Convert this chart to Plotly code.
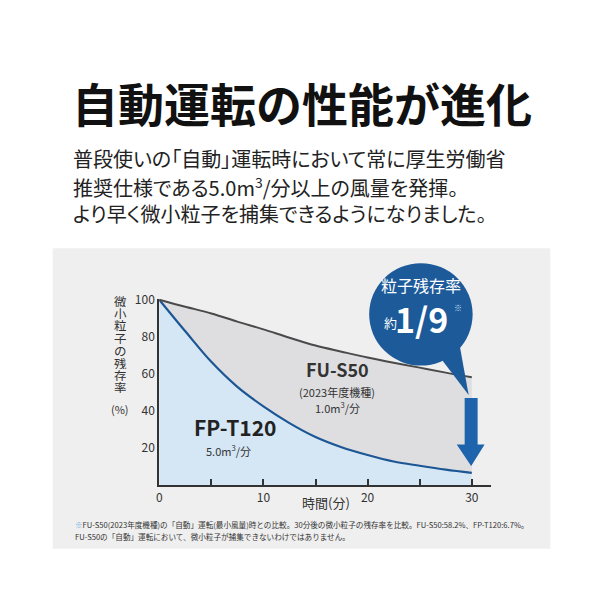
import plotly.graph_objects as go

# minutes and remaining rate (%)
minutes = [0, 2.5, 5, 7.5, 10, 12.5, 15, 17.5, 20, 22.5, 25, 27.5, 30]
fp_t120 = [100, 83, 66.5, 53, 42.5, 33.5, 26, 20.5, 16.3, 12.8, 10.5, 8.4, 6.7]
fu_s50 = [100, 96.2, 92.6, 88.2, 84, 79.5, 75.3, 72, 68.8, 66, 63.4, 60.7, 58.2]

x_ticks = [0, 5, 10, 15, 20, 25, 30]
x_labels = ["0", " ", "10", " ", "20", " ", "30"]
y_ticks = [20, 40, 60, 80, 100]

FONT = "Noto Sans CJK JP"
W = H = 600
PALT = "<span style='font-feature-settings:\"palt\"'>{}</span>"


def px(x):
    return x / W


def py(y):
    return 1 - y / H


fig = go.Figure()
fig.add_trace(go.Scatter(x=minutes, y=fp_t120, mode="lines", fill="tozeroy",
                         fillcolor="#d5e7f5", line=dict(color="#1d5694", width=2.2),
                         line_shape="spline", hoverinfo="skip"))
fig.add_trace(go.Scatter(x=minutes, y=fu_s50, mode="lines", fill="tonexty",
                         fillcolor="#dedee0", line=dict(color="#4a4a4a", width=2),
                         line_shape="spline", hoverinfo="skip"))

shapes = []
# grey panel behind chart
shapes.append(dict(type="rect", xref="paper", yref="paper", layer="below",
                   x0=px(50), x1=px(550), y0=py(548), y1=py(243),
                   fillcolor="#efefef", line_width=0))
# callout bubble
shapes.append(dict(type="circle", xref="paper", yref="paper",
                   x0=px(368), x1=px(472), y0=py(362), y1=py(258),
                   fillcolor="#1c5a9a", line_width=0))
tail = [(438, 352), (458, 336), (468, 392)]
shapes.append(dict(type="path", xref="paper", yref="paper",
                   path="M " + " L ".join(f"{px(a):.4f},{py(b):.4f}" for a, b in tail) + " Z",
                   fillcolor="#1c5a9a", line_width=0))
# down arrow
arrow = [(464, 395), (477, 395), (477, 442), (484, 442), (470.5, 464),
         (456, 442), (464, 442)]
shapes.append(dict(type="path", xref="paper", yref="paper",
                   path="M " + " L ".join(f"{px(a):.4f},{py(b):.4f}" for a, b in arrow) + " Z",
                   fillcolor="#1d64ad", line_width=0))

ann = []


def text(x, y, s, size, color="#222", xanchor="center", bold=False, height=None):
    a = dict(x=px(x), y=py(y), xref="paper", yref="paper", text=f"<b>{s}</b>" if bold else s,
             showarrow=False, xanchor=xanchor, yanchor="middle",
             font=dict(family=FONT, size=size, color=color))
    if height:
        a["height"] = height
    ann.append(a)


text(300, 94, "自動運転の性能が進化", 46, "#111", bold=True)
text(68, 152, PALT.format("普段使いの「自動」運転時において常に厚生労働省"), 20, xanchor="left")
text(68, 181, PALT.format("推奨仕様である5.0m<sup>3</sup>/分以上の風量を発揮。"), 20, xanchor="left")
text(68, 208, PALT.format("より早く微小粒子を捕集できるようになりました。"), 20, xanchor="left")

# vertical axis title, one character per row
for i, ch in enumerate("微小粒子の残存率"):
    text(118, 296 + i * 12.6, ch, 12.5, "#333", height=12)
text(118, 406, "(%)", 11, "#333")
text(325, 501, "時間(分)", 13, "#333")

text(336, 365, "FU-S50", 18, "#333", bold=True)
text(336, 389, "(2023年度機種)", 11, "#333")
text(336, 405, "1.0m<sup>3</sup>/分", 11, "#333")
text(233, 424, "FP-T120", 21, "#222", bold=True)
text(227, 448, "5.0m<sup>3</sup>/分", 11, "#333")

text(420, 280, "粒子残存率", 16, "white")
text(389, 318, "約", 13, "white")
text(421, 314, "1/9", 34, "white", bold=True)
text(457, 303, "※", 8, "#cfe0f0")

ann.append(dict(x=px(70), y=py(523), xref="paper", yref="paper", showarrow=False,
                xanchor="left", yanchor="middle",
                text="<span style='color:#6aaee0'>※</span>FU-S50(2023年度機種)の「自動」運転(最小風量)時との比較。"
                     "30分後の微小粒子の残存率を比較。FU-S50:58.2%、FP-T120:6.7%。",
                font=dict(family=FONT, size=7.6, color="#333")))
text(70, 536, "FU-S50の「自動」運転において、微小粒子が捕集できないわけではありません。", 7.6, "#333", xanchor="left")

fig.update_layout(
    width=W, height=H,
    margin=dict(l=0, r=0, t=0, b=0),
    paper_bgcolor="white", plot_bgcolor="rgba(0,0,0,0)",
    showlegend=False,
    shapes=shapes, annotations=ann,
    xaxis=dict(domain=[px(157), px(490)], range=[0, 31.8], tickvals=x_ticks, ticktext=x_labels,
               ticks="inside", ticklen=6, tickwidth=2, tickcolor="#333",
               showline=True, linecolor="#333", linewidth=2, showgrid=False, zeroline=False,
               tickfont=dict(family=FONT, size=12, color="#333")),
    yaxis=dict(domain=[py(483.5), py(294)], range=[0, 100.6], tickvals=y_ticks,
               showline=True, linecolor="#333", linewidth=2, showgrid=False, zeroline=False,
               ticks="", tickfont=dict(family=FONT, size=12, color="#333")),
)

fig.write_html("out.html", config={"displayModeBar": False},
               post_script="document.body.style.margin='0';")
